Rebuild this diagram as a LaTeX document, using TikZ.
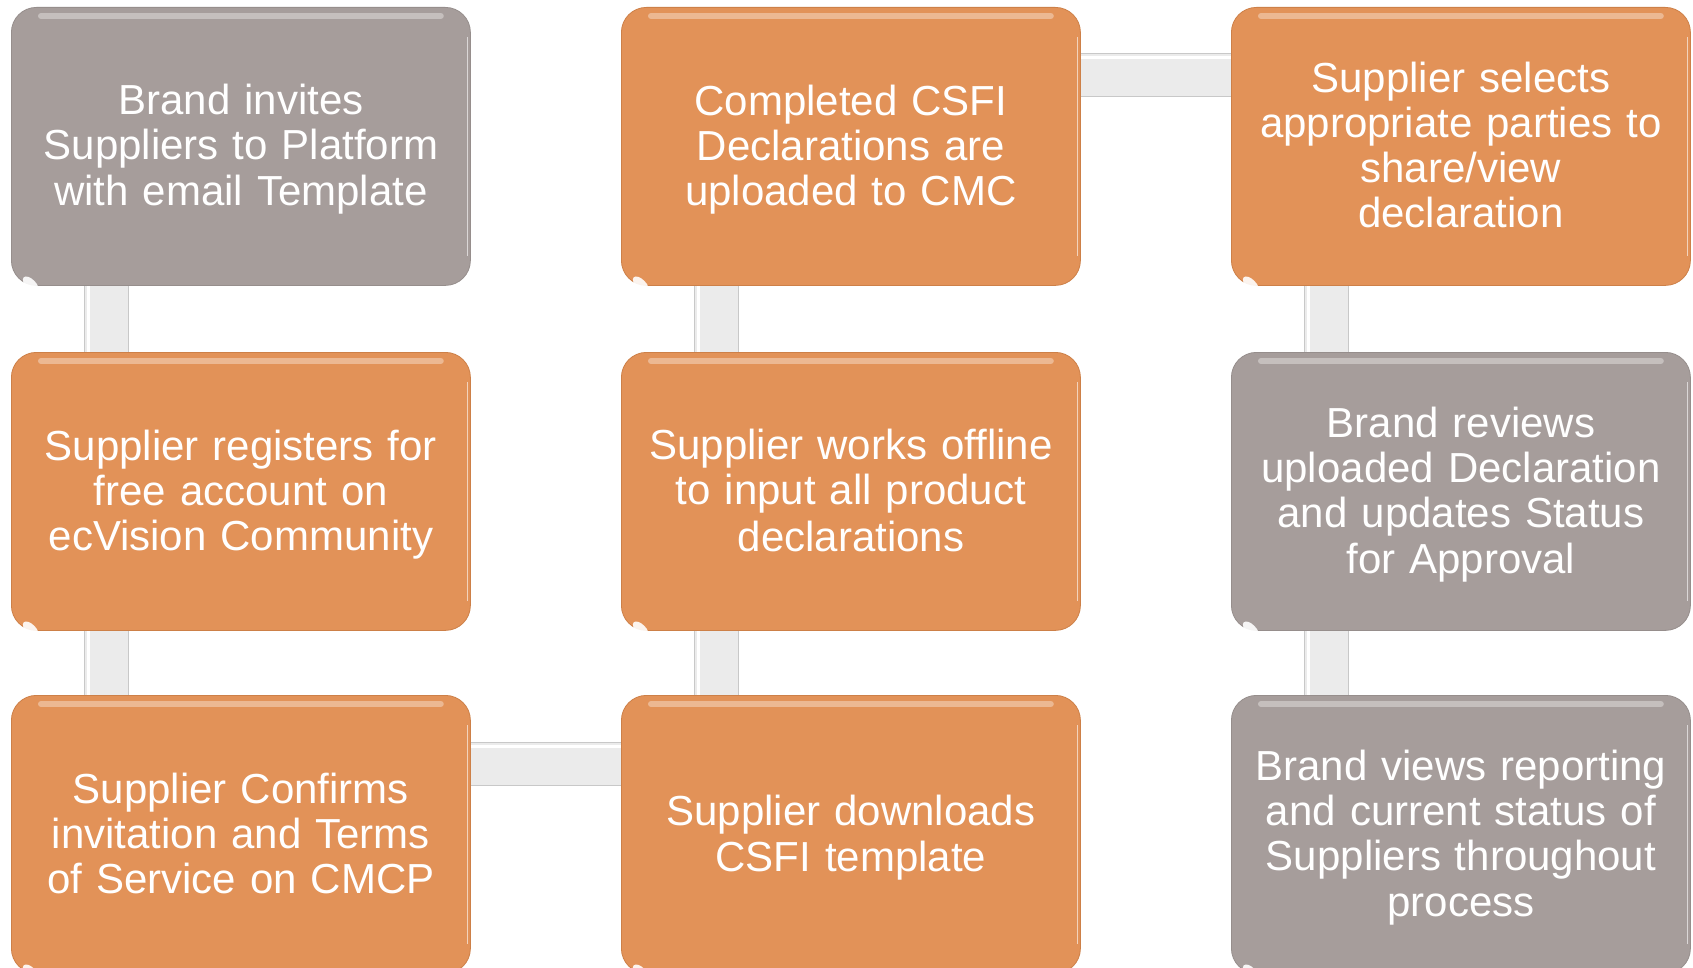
\documentclass[tikz,border=0pt]{standalone}
\usepackage{fontspec}
\setmainfont{Liberation Sans}
\definecolor{boxorange}{RGB}{226,146,88}
\definecolor{boxorangeedge}{RGB}{205,128,72}
\definecolor{boxgray}{RGB}{166,157,155}
\definecolor{boxgrayedge}{RGB}{150,142,140}
\definecolor{barfill}{RGB}{235,235,235}
\definecolor{baredge}{RGB}{200,200,200}
\newcommand{\linestrut}{\rule[-8.5pt]{0pt}{45pt}}
\tikzset{
  stepbox/.style={rectangle, rounded corners=25pt, minimum width=459pt, minimum height=278pt,
     anchor=north west, text=white, align=center, text width=440pt, inner sep=0pt,
     font=\fontsize{42}{45}\selectfont, line width=0.8pt,
     execute at begin node=\linestrut, execute at end node=\linestrut},
  orangebox/.style={stepbox, fill=boxorange, draw=boxorangeedge},
  graybox/.style={stepbox, fill=boxgray, draw=boxgrayedge},
  barstyle/.style={fill=barfill},
  baredgeline/.style={draw=baredge, line width=1pt},
  gloss/.style={white, opacity=0.35, line width=6pt, line cap=round},
}
\newcommand{\glossy}[1]{%
  \draw[gloss] ([xshift=30pt,yshift=-9pt]#1.north west) -- ([xshift=-30pt,yshift=-9pt]#1.north east);
  \draw[white, opacity=0.6, line width=1.2pt] ([xshift=-3pt,yshift=-30pt]#1.north east) -- ([xshift=-3pt,yshift=30pt]#1.south east);
  \fill[white, opacity=0.9, rotate around={-45:([xshift=13pt,yshift=15pt]#1.south west)}]
     ([xshift=13pt,yshift=15pt]#1.south west) ellipse (10pt and 5pt);
}
\newcommand{\myvbar}[2]{%
  \fill[barstyle] ([xshift=73pt]#1.south west) rectangle ([xshift=117pt]#2.north west);
  \draw[baredgeline] ([xshift=73pt]#1.south west) -- ([xshift=73pt]#2.north west);
  \draw[baredgeline] ([xshift=117pt]#1.south west) -- ([xshift=117pt]#2.north west);
  \draw[white, line width=3pt] ([xshift=77pt]#1.south west) -- ([xshift=77pt]#2.north west);
}
\newcommand{\myhbar}[2]{%
  \fill[barstyle] ([yshift=-47pt]#1.north east) rectangle ([yshift=-90pt]#2.north west);
  \draw[baredgeline] ([yshift=-47pt]#1.north east) -- ([yshift=-47pt]#2.north west);
  \draw[baredgeline] ([yshift=-90pt]#1.north east) -- ([yshift=-90pt]#2.north west);
  \draw[white, line width=3pt] ([yshift=-51pt]#1.north east) -- ([yshift=-51pt]#2.north west);
}
\begin{document}
\begin{tikzpicture}[x=1pt,y=-1pt]
\useasboundingbox[fill=white] (0,0) rectangle (1693,968);
% column 1
\node[graybox]   (b1) at (11,7)   {Brand invites\\Suppliers to Platform\\with email Template};
\node[orangebox] (b2) at (11,352) {Supplier registers for\\free account on\\ecVision Community};
\node[orangebox] (b3) at (11,695) {Supplier Confirms\\invitation and Terms\\of Service on CMCP};
% column 2
\node[orangebox] (b4) at (621,695) {Supplier downloads\\CSFI template};
\node[orangebox] (b5) at (621,352) {Supplier works offline\\to input all product\\declarations};
\node[orangebox] (b6) at (621,7)   {Completed CSFI\\Declarations are\\uploaded to CMC};
% column 3
\node[orangebox] (b7) at (1231,7)   {Supplier selects\\appropriate parties to\\share/view\\declaration};
\node[graybox]   (b8) at (1231,352) {Brand reviews\\uploaded Declaration\\and updates Status\\for Approval};
\node[graybox]   (b9) at (1231,695) {Brand views reporting\\and current status of\\Suppliers throughout\\process};
% connectors
\myvbar{b1}{b2}
\myvbar{b2}{b3}
\myhbar{b3}{b4}
\myvbar{b5}{b4}
\myvbar{b6}{b5}
\myhbar{b6}{b7}
\myvbar{b7}{b8}
\myvbar{b8}{b9}
% gloss
\glossy{b1}\glossy{b2}\glossy{b3}\glossy{b4}\glossy{b5}\glossy{b6}\glossy{b7}\glossy{b8}\glossy{b9}
\end{tikzpicture}
\end{document}
